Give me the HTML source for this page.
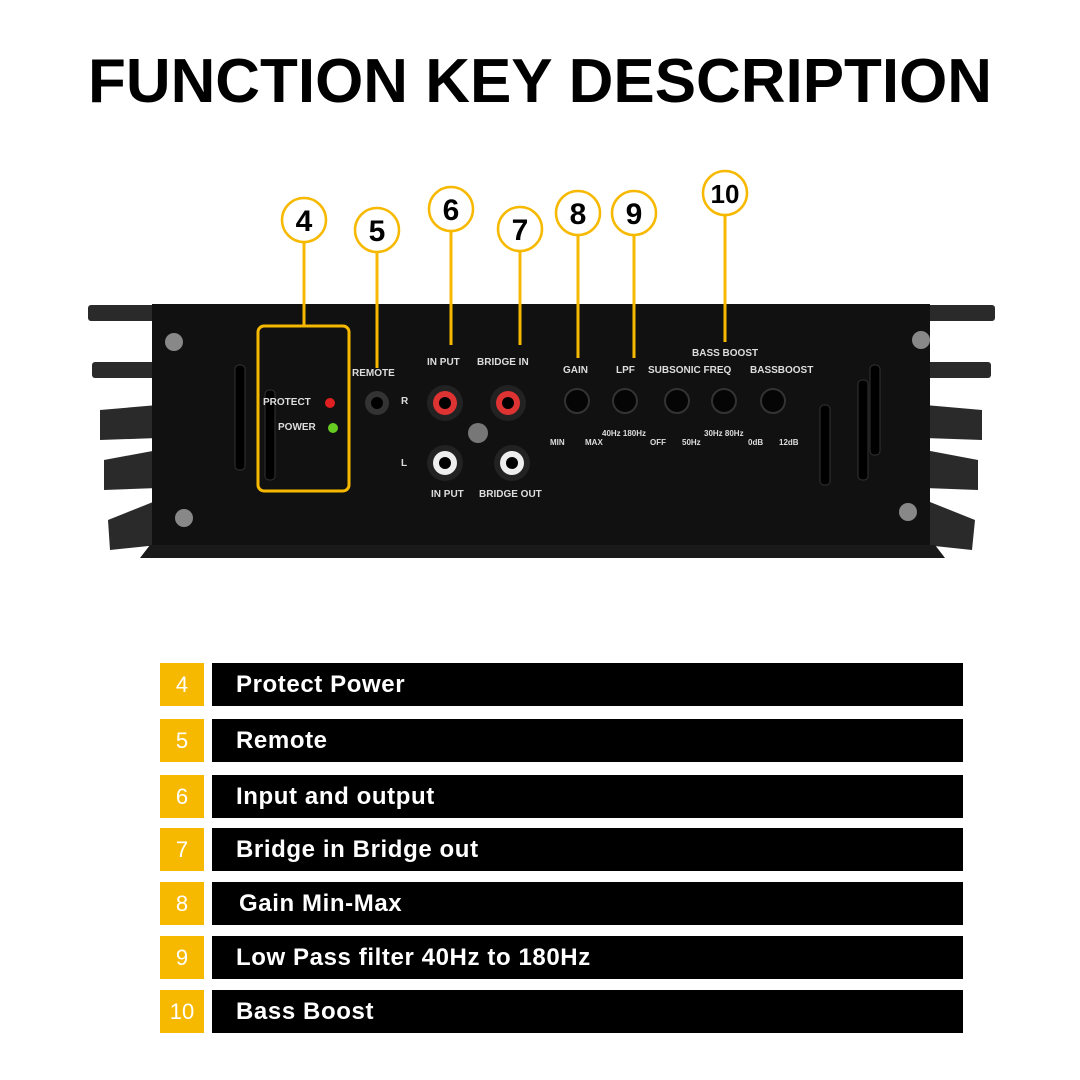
<!DOCTYPE html>
<html><head><meta charset="utf-8"><style>
body{margin:0;width:1080px;height:1080px;background:#fff;overflow:hidden;font-family:"Liberation Sans",sans-serif}
.row{position:absolute;left:160px;height:43px;width:803px}
.n{position:absolute;left:0;top:0;width:44px;height:43px;background:#f7b900;color:#fff;font-size:22px;line-height:43px;text-align:center}
.b{position:absolute;left:52px;top:0;right:0;height:43px;background:#000;color:#fff;font-weight:bold;font-size:24px;letter-spacing:0.6px;line-height:43px;padding-left:24px;box-sizing:border-box}
</style></head><body>
<svg width="1080" height="660" style="position:absolute;left:0;top:0" font-family="Liberation Sans, sans-serif">
<text x="540" y="102" text-anchor="middle" font-size="62" font-weight="bold" textLength="904" lengthAdjust="spacingAndGlyphs">FUNCTION KEY DESCRIPTION</text>
<g fill="#2a2a2a">
<rect x="88" y="305" width="70" height="16" rx="3"/><rect x="92" y="362" width="66" height="16" rx="3"/>
<polygon points="100,410 158,405 158,438 100,440"/><polygon points="104,460 158,450 158,488 104,490"/><polygon points="108,520 158,500 158,545 110,550"/>
<rect x="925" y="305" width="70" height="16" rx="3"/><rect x="925" y="362" width="66" height="16" rx="3"/>
<polygon points="925,405 982,410 982,440 925,438"/><polygon points="925,450 978,460 978,490 925,488"/><polygon points="925,500 975,520 972,550 925,545"/>
</g>
<rect x="152" y="304" width="778" height="244" fill="#111"/>
<polygon points="150,545 935,545 945,558 140,558" fill="#1a1a1a"/>
<g fill="#888"><circle cx="174" cy="342" r="9"/><circle cx="921" cy="340" r="9"/><circle cx="184" cy="518" r="9"/><circle cx="908" cy="512" r="9"/></g>
<g fill="#000" stroke="#333"><rect x="235" y="365" width="10" height="105" rx="4"/><rect x="265" y="390" width="10" height="90" rx="4"/><rect x="858" y="380" width="10" height="100" rx="4"/><rect x="870" y="365" width="10" height="90" rx="4"/><rect x="820" y="405" width="10" height="80" rx="4"/></g>
<g fill="#ddd" font-size="10" font-weight="bold">
<text x="352" y="376">REMOTE</text><text x="427" y="365">IN PUT</text><text x="477" y="365">BRIDGE IN</text>
<text x="563" y="373">GAIN</text><text x="616" y="373">LPF</text><text x="648" y="373">SUBSONIC FREQ</text><text x="750" y="373">BASSBOOST</text><text x="692" y="356">BASS BOOST</text>
<text x="263" y="405">PROTECT</text><text x="278" y="430">POWER</text><text x="401" y="404">R</text><text x="401" y="466">L</text>
<text x="431" y="497">IN PUT</text><text x="479" y="497">BRIDGE OUT</text>
<g font-size="8"><text x="550" y="445">MIN</text><text x="585" y="445">MAX</text><text x="602" y="436">40Hz 180Hz</text><text x="650" y="445">OFF</text><text x="682" y="445">50Hz</text><text x="704" y="436">30Hz 80Hz</text><text x="748" y="445">0dB</text><text x="779" y="445">12dB</text></g>
</g>
<circle cx="330" cy="403" r="5" fill="#e02020"/><circle cx="333" cy="428" r="5" fill="#6c2"/>
<circle cx="377" cy="403" r="12" fill="#333"/><circle cx="377" cy="403" r="6" fill="#000"/>
<g><circle cx="445" cy="403" r="18" fill="#222"/><circle cx="445" cy="403" r="12" fill="#d33"/><circle cx="445" cy="403" r="6" fill="#000"/>
<circle cx="508" cy="403" r="18" fill="#222"/><circle cx="508" cy="403" r="12" fill="#d33"/><circle cx="508" cy="403" r="6" fill="#000"/>
<circle cx="445" cy="463" r="18" fill="#222"/><circle cx="445" cy="463" r="12" fill="#eee"/><circle cx="445" cy="463" r="6" fill="#000"/>
<circle cx="512" cy="463" r="18" fill="#222"/><circle cx="512" cy="463" r="12" fill="#eee"/><circle cx="512" cy="463" r="6" fill="#000"/>
<circle cx="478" cy="433" r="10" fill="#777"/></g>
<g fill="#050505" stroke="#333" stroke-width="2"><circle cx="577" cy="401" r="12"/><circle cx="625" cy="401" r="12"/><circle cx="677" cy="401" r="12"/><circle cx="724" cy="401" r="12"/><circle cx="773" cy="401" r="12"/></g>
<g stroke="#f7b900" stroke-width="3" fill="none">
<line x1="304" y1="243" x2="304" y2="326"/><rect x="258" y="326" width="91" height="165" rx="6"/>
<line x1="377" y1="253" x2="377" y2="368"/><line x1="451" y1="232" x2="451" y2="345"/><line x1="520" y1="252" x2="520" y2="345"/>
<line x1="578" y1="236" x2="578" y2="358"/><line x1="634" y1="236" x2="634" y2="358"/><line x1="725" y1="216" x2="725" y2="342"/>
</g>
<g stroke="#f7b900" stroke-width="2.5" fill="#fff">
<circle cx="304" cy="220" r="22"/><circle cx="377" cy="230" r="22"/><circle cx="451" cy="209" r="22"/><circle cx="520" cy="229" r="22"/><circle cx="578" cy="213" r="22"/><circle cx="634" cy="213" r="22"/><circle cx="725" cy="193" r="22"/>
</g>
<g font-size="30" font-weight="bold" text-anchor="middle" fill="#000">
<text x="304" y="231">4</text><text x="377" y="241">5</text><text x="451" y="220">6</text><text x="520" y="240">7</text><text x="578" y="224">8</text><text x="634" y="224">9</text><text x="725" y="203" font-size="26">10</text>
</g>
</svg>
<div class="row" style="top:663px"><div class="n">4</div><div class="b">Protect Power</div></div>
<div class="row" style="top:719px"><div class="n">5</div><div class="b">Remote</div></div>
<div class="row" style="top:775px"><div class="n">6</div><div class="b">Input and output</div></div>
<div class="row" style="top:828px"><div class="n">7</div><div class="b">Bridge in Bridge out</div></div>
<div class="row" style="top:882px"><div class="n">8</div><div class="b" style="padding-left:27px">Gain Min-Max</div></div>
<div class="row" style="top:936px"><div class="n">9</div><div class="b">Low Pass filter 40Hz to 180Hz</div></div>
<div class="row" style="top:990px"><div class="n">10</div><div class="b">Bass Boost</div></div>
</body></html>
